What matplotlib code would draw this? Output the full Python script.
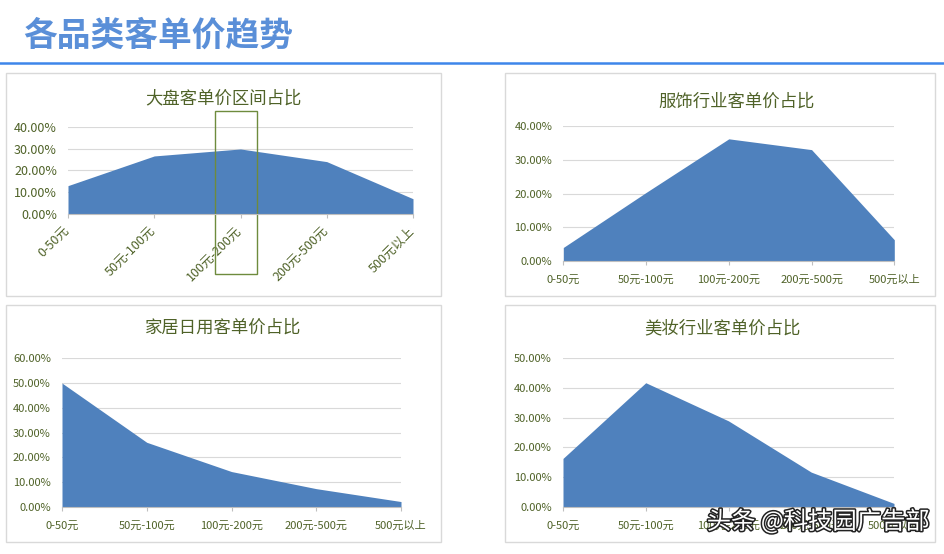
import matplotlib
matplotlib.use("Agg")
import matplotlib.pyplot as plt
from matplotlib.patches import Rectangle
from matplotlib.ticker import FuncFormatter
import matplotlib.patheffects as pe

plt.rcParams['font.family'] = ['Noto Sans CJK SC', 'DejaVu Sans']

# ---- data ----
categories = ["0-50元", "50元-100元", "100元-200元", "200元-500元", "500元以上"]
overall = [0.130, 0.266, 0.298, 0.240, 0.070]
apparel = [0.040, 0.203, 0.362, 0.330, 0.063]
home = [0.500, 0.261, 0.143, 0.074, 0.022]
beauty = [0.163, 0.417, 0.289, 0.117, 0.012]

main_title = "各品类客单价趋势"
titles = ["大盘客单价区间占比", "服饰行业客单价占比", "家居日用客单价占比", "美妆行业客单价占比"]
watermark = "头条 @科技园广告部"

W, H = 944, 554
fig = plt.figure(figsize=(W / 100, H / 100), dpi=100)
fig.patch.set_facecolor("white")

FILL = "#4F81BD"
TXT = "#4F6228"
GRID = "#D9D9D9"


def rect(x0, x1, yt, yb):
    return [x0 / W, 1 - yb / H, (x1 - x0) / W, (yb - yt) / H]


# title and rule
fig.text(23 / W, 1 - 35 / H, main_title, fontsize=24.3, fontweight="bold",
         color="#5A8FD8", ha="left", va="center")
fig.add_artist(plt.Line2D([0, 1], [1 - 63 / H, 1 - 63 / H], color="#3E86EA",
                          lw=1.8, transform=fig.transFigure))

# panel frames
for (x0, x1, yt, yb) in [(6, 441, 73, 296), (505, 935, 73, 296),
                         (6, 441, 305, 542), (505, 935, 305, 542)]:
    fig.add_artist(Rectangle((x0 / W, 1 - yb / H), (x1 - x0) / W, (yb - yt) / H,
                             transform=fig.transFigure, fill=False,
                             edgecolor=GRID, lw=1.0))

pct = FuncFormatter(lambda v, p: f"{v * 100:.2f}%")

specs = [
    (overall, titles[0], rect(68, 413, 126.7, 214), 0.4, 9.0, (223, 98), True),
    (apparel, titles[1], rect(563.3, 894.3, 126, 261), 0.4, 8.0, (737, 102), False),
    (home, titles[2], rect(62, 401, 358.3, 507), 0.6, 8.0, (223, 328), False),
    (beauty, titles[3], rect(563, 894, 358, 507), 0.5, 8.0, (722, 328), False),
]

axes = []
for vals, title, r, ymax, fs, tpos, rotated in specs:
    ax = fig.add_axes(r)
    axes.append(ax)
    xs = list(range(len(categories)))
    ax.fill_between(xs, vals, 0, color=FILL, lw=0)
    ax.set_xlim(0, len(categories) - 1)
    ax.set_ylim(0, ymax)
    ax.set_yticks([i * 0.1 for i in range(int(round(ymax * 10)) + 1)])
    ax.yaxis.set_major_formatter(pct)
    ax.grid(axis="y", color=GRID, lw=0.8)
    ax.set_axisbelow(True)
    for s in ["top", "right", "left"]:
        ax.spines[s].set_visible(False)
    ax.spines["bottom"].set_color("#BFBFBF")
    ax.spines["bottom"].set_linewidth(0.8)
    ax.tick_params(axis="y", length=0, pad=8, labelsize=fs, labelcolor=TXT)
    ax.set_xticks(xs)
    if rotated:
        ax.set_xticklabels(categories, rotation=45, ha="right", va="center",
                           rotation_mode="anchor")
        ax.tick_params(axis="x", length=3, color="#BFBFBF", pad=8,
                       labelsize=fs, labelcolor=TXT)
    else:
        ax.set_xticklabels(categories)
        ax.tick_params(axis="x", length=3, color="#BFBFBF", pad=7,
                       labelsize=fs, labelcolor=TXT)
    fig.text(tpos[0] / W, 1 - tpos[1] / H, title, fontsize=12.5, color=TXT,
             ha="center", va="center")

# highlight box around 100元-200元 in first chart
axes[0].add_patch(Rectangle((1.70, -0.275), 0.49, 0.747, fill=False,
                            edgecolor="#6E8B3D", lw=1.0, clip_on=False))

# watermark
fig.text(818 / W, 1 - 522 / H, watermark, fontsize=17.5, color="white",
         ha="center", va="center",
         path_effects=[pe.withStroke(linewidth=2.2, foreground="#222222")])

fig.savefig("out.png", dpi=100, facecolor="white")
